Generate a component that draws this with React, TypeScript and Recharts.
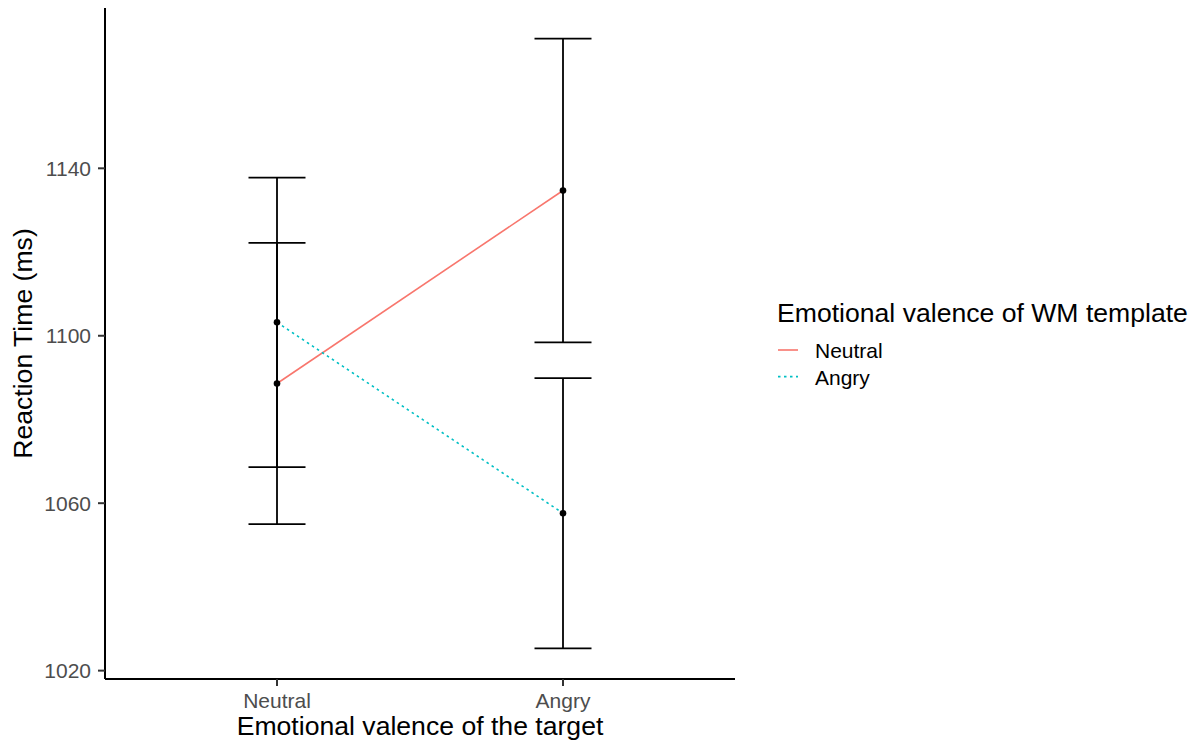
import React from 'react';
import {
  ComposedChart,
  Line,
  XAxis,
  YAxis,
  ErrorBar,
  Legend,
} from 'recharts';

// Mean reaction times (ms) per target valence, split by WM template valence
const targets = ['Neutral', 'Angry'];
const neutralTemplateRT = [1088.6, 1134.7];
const neutralTemplateErr = [33.6, 36.3];
const angryTemplateRT = [1103.2, 1057.6];
const angryTemplateErr = [34.6, 32.3];
const yTicks = [1020, 1060, 1100, 1140];

const templateSeries = [
  { key: 'neutral', name: 'Neutral', color: '#F8766D', dash: undefined },
  { key: 'angry', name: 'Angry', color: '#00BFC4', dash: '2.5 3.5' },
];

const data = targets.map((target, i) => ({
  target,
  neutral: neutralTemplateRT[i],
  neutralErr: neutralTemplateErr[i],
  angry: angryTemplateRT[i],
  angryErr: angryTemplateErr[i],
}));

const FONT = '"Liberation Sans", Arial, Helvetica, sans-serif';

function TemplateLegend() {
  return (
    <svg width={420} height={110} style={{ fontFamily: FONT, display: 'block' }}>
      <text x={1} y={32} fontSize={26.6} fill="#000">
        Emotional valence of WM template
      </text>
      {templateSeries.map((s, i) => (
        <g key={s.key}>
          <line
            x1={2}
            x2={22}
            y1={60 + i * 26.6}
            y2={60 + i * 26.6}
            stroke={s.color}
            strokeWidth={1.6}
            strokeDasharray={s.dash}
          />
          <text x={39} y={68 + i * 26.6} fontSize={21} fill="#000">
            {s.name}
          </text>
        </g>
      ))}
    </svg>
  );
}

export default function App() {
  return (
    <div style={{ position: 'absolute', left: 0, top: 0, background: '#fff' }}>
      <ComposedChart
        width={1198}
        height={742}
        data={data}
        margin={{ top: 8, right: 463, bottom: 0, left: 0 }}
        style={{ fontFamily: FONT }}
      >
        <XAxis
          dataKey="target"
          type="category"
          padding={{ left: 172, right: 172 }}
          height={63}
          tickSize={7}
          tickMargin={7}
          axisLine={{ stroke: '#000', strokeWidth: 2 }}
          tickLine={{ stroke: '#333', strokeWidth: 2 }}
          tick={{ fill: '#4D4D4D', fontSize: 21 }}
          label={{
            value: 'Emotional valence of the target',
            position: 'insideBottom',
            offset: 7,
            fill: '#000',
            fontSize: 26.6,
          }}
        />
        <YAxis
          type="number"
          domain={[1018, 1178.3]}
          allowDataOverflow
          ticks={yTicks}
          width={105}
          tickSize={7}
          tickMargin={7}
          axisLine={{ stroke: '#000', strokeWidth: 2 }}
          tickLine={{ stroke: '#333', strokeWidth: 2 }}
          tick={{ fill: '#4D4D4D', fontSize: 21 }}
          label={{
            value: 'Reaction Time (ms)',
            angle: -90,
            position: 'insideLeft',
            offset: 23,
            fill: '#000',
            fontSize: 26.6,
            style: { textAnchor: 'middle' },
          }}
        />
        <Legend
          layout="vertical"
          align="center"
          verticalAlign="middle"
          wrapperStyle={{ left: 776, top: 290, width: 420 }}
          content={() => <TemplateLegend />}
        />
        {templateSeries.map((s) => (
          <Line
            key={s.key}
            type="linear"
            dataKey={s.key}
            name={s.name}
            stroke={s.color}
            strokeWidth={1.6}
            strokeDasharray={s.dash}
            dot={{ r: 3.3, fill: '#000', stroke: 'none' }}
            activeDot={false}
            isAnimationActive={false}
          >
            <ErrorBar
              dataKey={`${s.key}Err`}
              width={28.5}
              stroke="#000"
              strokeWidth={1.8}
              direction="y"
              isAnimationActive={false}
            />
          </Line>
        ))}
      </ComposedChart>
    </div>
  );
}
